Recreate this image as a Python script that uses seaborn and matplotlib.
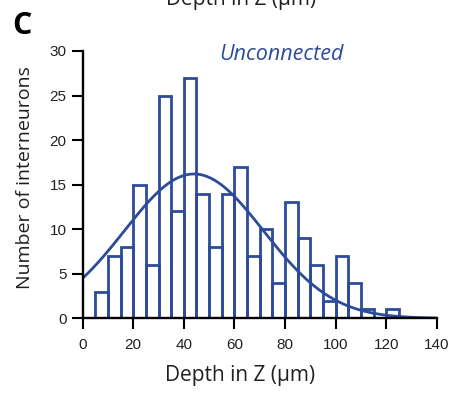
import numpy as np
import pandas as pd
import matplotlib
matplotlib.use("Agg")
import matplotlib.pyplot as plt
import seaborn as sns

# Histogram counts (5 um bins)
bin_left = [5, 10, 15, 20, 25, 30, 35, 40, 45, 50, 55, 60, 65, 70, 75, 80,
            85, 90, 95, 100, 105, 110, 115, 120]
counts = [3, 7, 8, 15, 6, 25, 12, 27, 14, 8, 14, 17, 7, 10, 4, 13,
          9, 6, 2, 7, 4, 1, 0, 1]
bin_width = 5

# Gaussian fit overlay
fit_peak = 16.2
fit_mean = 44
fit_sd = 27.5

x_ticks = [0, 20, 40, 60, 80, 100, 120, 140]
y_ticks = [0, 5, 10, 15, 20, 25, 30]

blue = "#2d4b9b"
ink = "#231f20"

sns.set_style("ticks")
plt.rcParams["font.family"] = ["Open Sans", "DejaVu Sans"]

fig = plt.figure(figsize=(4.54, 3.95), dpi=100)
ax = fig.add_axes([0.182, 0.194, 0.780, 0.677])

df = pd.DataFrame({"depth": np.array(bin_left) + bin_width / 2, "n": counts})
edges = list(bin_left) + [bin_left[-1] + bin_width]
sns.histplot(data=df, x="depth", weights="n", bins=edges, fill=False,
             element="bars", color=blue, linewidth=2.0, ax=ax)

xs = np.linspace(0, 140, 300)
fit = pd.DataFrame({"x": xs, "y": fit_peak * np.exp(-(xs - fit_mean) ** 2 / (2 * fit_sd ** 2))})
sns.lineplot(data=fit, x="x", y="y", color=blue, linewidth=2.0, ax=ax)

ax.set_xlim(0, 140)
ax.set_ylim(0, 30)
ax.set_xticks(x_ticks)
ax.set_yticks(y_ticks)
ax.tick_params(axis="both", length=8, width=1.5, labelsize=11, colors="black")
ax.tick_params(axis="x", pad=6)
ax.tick_params(axis="y", pad=3.5)
for lab in ax.get_xticklabels() + ax.get_yticklabels():
    lab.set_family(["Liberation Sans", "DejaVu Sans"])
    lab.set_color("#222222")
for s in ["left", "bottom"]:
    ax.spines[s].set_linewidth(1.7)
    ax.spines[s].set_color("black")
sns.despine(ax=ax)

ax.set_xlabel("Depth in Z (\u03bcm)", fontsize=15, color=ink)
ax.xaxis.label.set_va("center")
ax.xaxis.set_label_coords(0.445, -0.212)
ax.set_ylabel("Number of interneurons", fontsize=14, color=ink)
ax.yaxis.label.set_va("center")
ax.yaxis.set_label_coords(-0.163, 0.525)

fig.text(0.619, 0.861, "Unconnected", ha="center", va="center",
         fontsize=15.5, style="italic", color=blue)
fig.text(0.048, 0.934, "C", fontsize=22, fontweight="bold", ha="center", va="center", color="black")
fig.text(0.53, 1.0, "Depth in Z (\u03bcm)", fontsize=15, color=ink, ha="center", va="center")

fig.savefig("out.png", dpi=100)
